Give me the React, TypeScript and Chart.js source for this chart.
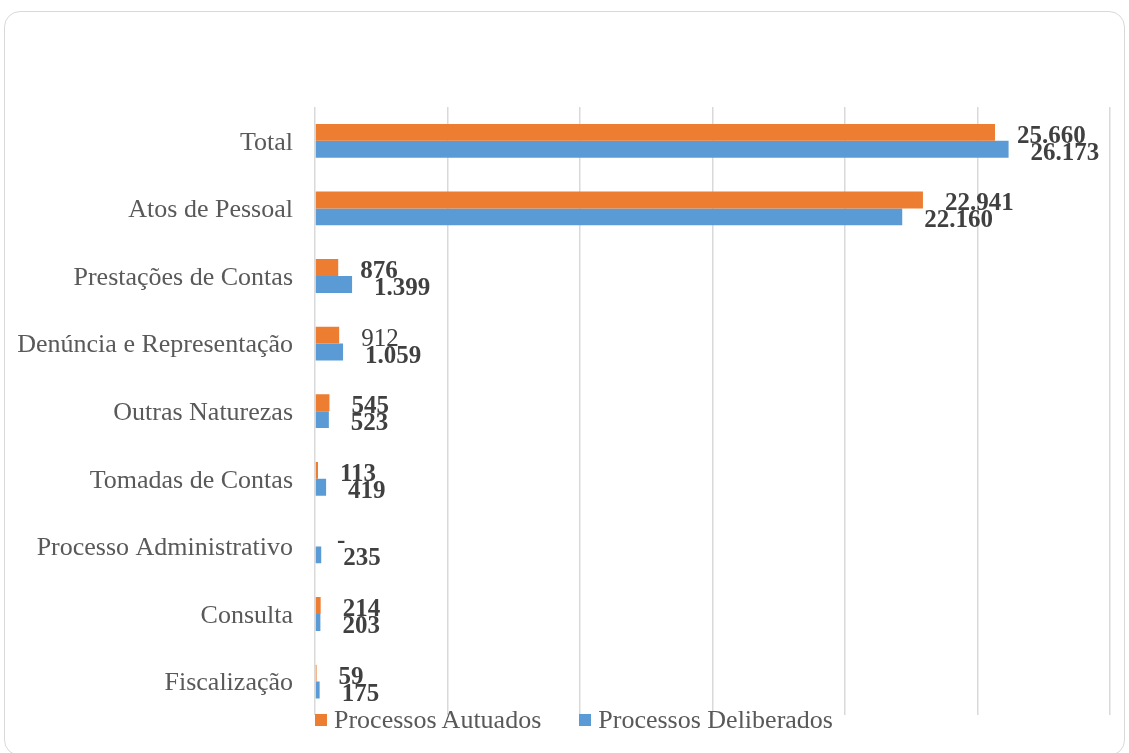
import React, { useEffect, useRef } from "react";
import { Chart, registerables } from "chart.js";

Chart.register(...registerables);

const categories = [
  "Total",
  "Atos de Pessoal",
  "Prestações de Contas",
  "Denúncia e Representação",
  "Outras Naturezas",
  "Tomadas de Contas",
  "Processo Administrativo",
  "Consulta",
  "Fiscalização",
];
const autuados = [25660, 22941, 876, 912, 545, 113, 0, 214, 59];
const deliberados = [26173, 22160, 1399, 1059, 523, 419, 235, 203, 175];
const seriesNames = ["Processos Autuados", "Processos Deliberados"];
const seriesColors = ["#ED7D31", "#5B9BD5"];
const xMax = 30000;
const xStep = 5000;

const FONT = "'Liberation Serif', 'DejaVu Serif', serif";

const fmt = (v: number) =>
  v === 0 ? "-" : v.toString().replace(/\B(?=(\d{3})+(?!\d))/g, ".");

const labelPlugin = {
  id: "valueLabels",
  afterDatasetsDraw(chart: any) {
    const ctx = chart.ctx;
    ctx.save();
    ctx.fillStyle = "#404040";
    ctx.textAlign = "left";
    ctx.textBaseline = "middle";
    chart.data.datasets.forEach((ds: any, di: number) => {
      const meta = chart.getDatasetMeta(di);
      meta.data.forEach((el: any, i: number) => {
        const v = ds.data[i];
        const bold = !(di === 0 && i === 3);
        ctx.font = `${bold ? "bold " : ""}25px ${FONT}`;
        ctx.fillText(fmt(v), el.x + 22, el.y + 4);
      });
    });
    ctx.restore();
  },
};

export default function App() {
  const ref = useRef<HTMLCanvasElement | null>(null);
  useEffect(() => {
    if (!ref.current) return;
    const chart = new Chart(ref.current, {
      type: "bar",
      data: {
        labels: categories,
        datasets: [
          { label: seriesNames[0], data: autuados, backgroundColor: seriesColors[0] },
          { label: seriesNames[1], data: deliberados, backgroundColor: seriesColors[1] },
        ],
      },
      options: {
        indexAxis: "y",
        animation: false,
        responsive: false,
        maintainAspectRatio: false,
        layout: { padding: { top: 107, bottom: 32, left: 0, right: 19 } },
        datasets: { bar: { categoryPercentage: 0.5, barPercentage: 1.0 } },
        plugins: { legend: { display: false }, tooltip: { enabled: false } },
        scales: {
          x: {
            min: 0,
            max: xMax,
            ticks: { display: false, stepSize: xStep },
            grid: { color: "#d9d9d9", lineWidth: 1.5, drawTicks: false },
            border: { display: false },
            afterFit: (axis: any) => {
              axis.height = 0;
            },
          },
          y: {
            grid: { display: false, drawTicks: false },
            border: { display: false },
            ticks: {
              padding: 22,
              labelOffset: 2,
              color: "#595959",
              font: { family: FONT, size: 26 },
            },
            afterFit: (axis: any) => {
              axis.width = 315;
            },
          },
        },
      },
      plugins: [labelPlugin],
    });
    return () => chart.destroy();
  }, []);

  return (
    <div style={{ position: "fixed", left: 0, top: 0, width: 1129, height: 753, background: "#fff" }}>
      <div
        style={{
          position: "absolute",
          left: 4,
          top: 11,
          width: 1121,
          height: 745,
          border: "1.5px solid #d9d9d9",
          borderRadius: 16,
          boxSizing: "border-box",
        }}
      />
      <canvas ref={ref} width={1129} height={753} style={{ position: "absolute", left: 0, top: 0 }} />
      <div
        style={{
          position: "absolute",
          left: 315,
          top: 705,
          display: "flex",
          alignItems: "center",
          fontFamily: FONT,
          fontSize: 26,
          color: "#595959",
          whiteSpace: "nowrap",
        }}
      >
        {seriesNames.map((n, i) => (
          <div key={n} style={{ display: "flex", alignItems: "center", marginRight: 38 }}>
            <span style={{ display: "inline-block", width: 12, height: 12, background: seriesColors[i], marginRight: 7 }} />
            <span>{n}</span>
          </div>
        ))}
      </div>
    </div>
  );
}
